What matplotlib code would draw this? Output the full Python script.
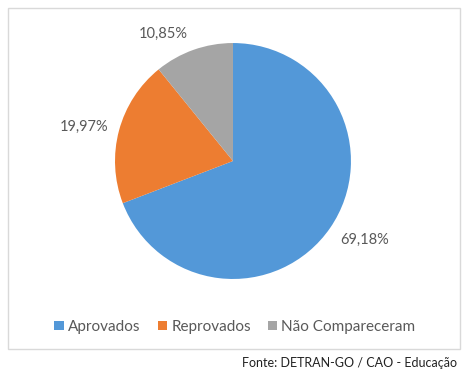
import matplotlib.pyplot as plt
from matplotlib.patches import Rectangle

categorias = ['Aprovados', 'Reprovados', 'Não Compareceram']
valores = [69.18, 19.97, 10.85]
cores = ['#5398d8', '#ed7d31', '#a5a5a5']
fonte = 'Fonte: DETRAN-GO / CAO - Educação'

plt.rcParams['font.family'] = ['Lato', 'DejaVu Sans']

fig = plt.figure(figsize=(4.7, 3.73), dpi=100)

# moldura da área do gráfico
fig.patches.append(Rectangle((8 / 470, 1 - 349 / 373), 452 / 470, 341 / 373,
                             transform=fig.transFigure, fill=False,
                             edgecolor='#d9d9d9', linewidth=1))

ax = fig.add_axes([0.2447, 0.252, 0.502, 0.6327])
wedges, texts, autotexts = ax.pie(
    valores, colors=cores, startangle=90, counterclock=False,
    autopct=lambda p: f'{p:.2f}%'.replace('.', ','), pctdistance=1.3,
    wedgeprops=dict(linewidth=0))
ax.set_aspect('equal')
ax.set_xlim(-1, 1)
ax.set_ylim(-1, 1)

# ajuste fino das posições dos rótulos (estilo "melhor ajuste" do Excel)
rotulo_pos = [(1.12, -0.67), (-1.26, 0.29), (-0.59, 1.08)]
for t, pos in zip(autotexts, rotulo_pos):
    t.set_position(pos)
    t.set_color('#595959')
    t.set_fontsize(10.5)
    t.set_ha('center')
    t.set_va('center')

fig.legend(wedges, categorias, loc='center', bbox_to_anchor=(0.5, 1 - 327 / 373),
           ncol=3, frameon=False, fontsize=11, handlelength=0.6, handleheight=0.6,
           handletextpad=0.3, columnspacing=1.1, labelcolor='#595959')

fig.text(457 / 470, 1 - 363 / 373, fonte, ha='right', va='center',
         fontsize=9, color='#222222')

fig.savefig('out.png', dpi=100)
